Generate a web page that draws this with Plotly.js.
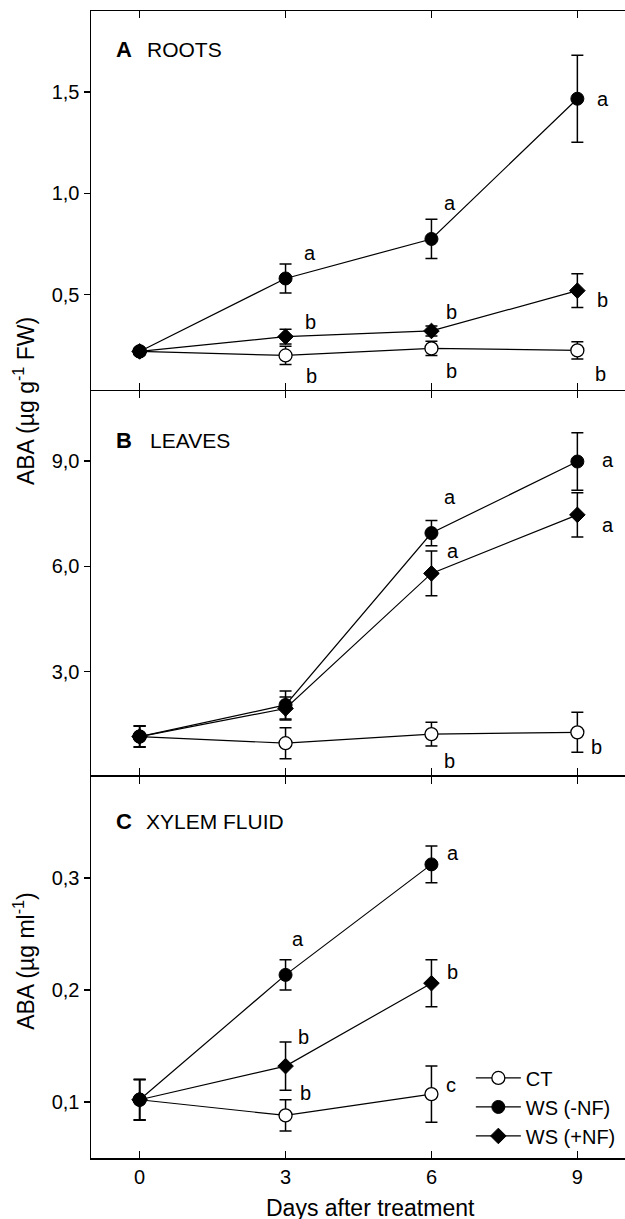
<!DOCTYPE html>
<html>
<head>
<meta charset="utf-8">
<script src="https://cdn.plot.ly/plotly-3.0.1.min.js"></script>
<style>
html,body{margin:0;padding:0;overflow:hidden;background:#fff;}
#chart{width:627px;height:1219px;}
</style>
</head>
<body>
<div id="chart"></div>
<script>
// ---- data ----
var days = [0, 3, 6, 9];
var daysXylem = [0, 3, 6];
var xTickLabels = ['0', '3', '6', '9'];

// A: roots (µg g-1 FW)
var ctRoots = [0.22, 0.20, 0.235, 0.225];
var ctRootsErr = [0.015, 0.045, 0.035, 0.043];
var wsmRoots = [0.22, 0.58, 0.775, 1.467];
var wsmRootsErr = [0.015, 0.072, 0.097, 0.215];
var wspRoots = [0.22, 0.293, 0.321, 0.52];
var wspRootsErr = [0.015, 0.037, 0.025, 0.083];

// B: leaves (µg g-1 FW)
var ctLeaves = [1.15, 0.96, 1.22, 1.27];
var ctLeavesErr = [0.3, 0.44, 0.34, 0.57];
var wsmLeaves = [1.15, 2.05, 6.95, 8.99];
var wsmLeavesErr = [0.3, 0.40, 0.36, 0.82];
var wspLeaves = [1.15, 1.95, 5.80, 7.47];
var wspLeavesErr = [0.3, 0.33, 0.64, 0.63];

// C: xylem fluid (µg ml-1)
var ctXylem = [0.102, 0.088, 0.107];
var ctXylemErr = [0.018, 0.014, 0.025];
var wsmXylem = [0.102, 0.2134, 0.312];
var wsmXylemErr = [0.018, 0.0135, 0.0165];
var wspXylem = [0.102, 0.132, 0.206];
var wspXylemErr = [0.018, 0.0215, 0.021];

var seriesNames = ['CT', 'WS (-NF)', 'WS (+NF)'];

var ticksA = [0.5, 1.0, 1.5], tickTextA = ['0,5', '1,0', '1,5'];
var ticksB = [3, 6, 9], tickTextB = ['3,0', '6,0', '9,0'];
var ticksC = [0.1, 0.2, 0.3], tickTextC = ['0,1', '0,2', '0,3'];

// significance letters: [day-position, value-position, letter]
var lettersA = [[3.50, 0.706, 'a'], [6.38, 0.952, 'a'], [9.53, 1.465, 'a'],
                [3.52, 0.367, 'b'], [3.54, 0.100, 'b'], [6.42, 0.415, 'b'],
                [6.42, 0.125, 'b'], [9.51, 0.474, 'b'], [9.47, 0.109, 'b']];
var lettersB = [[6.38, 7.99, 'a'], [6.44, 6.44, 'a'], [9.63, 9.02, 'a'],
                [9.63, 7.19, 'a'], [6.38, 0.46, 'b'], [9.40, 0.86, 'b']];
var lettersC = [[6.44, 0.322, 'a'], [3.26, 0.2454, 'a'], [6.44, 0.216, 'b'],
                [3.36, 0.158, 'b'], [3.40, 0.108, 'b'], [6.41, 0.115, 'c']];

// ---- styling ----
var FONT = 'Liberation Sans, Arial, Helvetica, sans-serif';
var BLACK = '#000000';

function mk(name, x, y, err, kind, xa, ya, showLegend) {
  var marker;
  if (kind === 'open') marker = {symbol: 'circle', size: 13, color: '#ffffff', line: {color: BLACK, width: 1.3}};
  else if (kind === 'filled') marker = {symbol: 'circle', size: 13, color: BLACK, line: {color: BLACK, width: 1}};
  else marker = {symbol: 'diamond', size: 12, color: BLACK, line: {color: BLACK, width: 1}};
  return {
    type: 'scatter', mode: 'lines+markers', name: name,
    x: x, y: y, xaxis: xa, yaxis: ya,
    line: {color: BLACK, width: 1.2},
    marker: marker,
    error_y: {type: 'data', array: err, visible: true, color: BLACK, thickness: 1.5, width: 6},
    showlegend: showLegend,
    hoverinfo: 'skip'
  };
}

var traces = [
  mk(seriesNames[0], days, ctRoots, ctRootsErr, 'open', 'x', 'y', false),
  mk(seriesNames[2], days, wspRoots, wspRootsErr, 'diamond', 'x', 'y', false),
  mk(seriesNames[1], days, wsmRoots, wsmRootsErr, 'filled', 'x', 'y', false),

  mk(seriesNames[0], days, ctLeaves, ctLeavesErr, 'open', 'x2', 'y2', false),
  mk(seriesNames[2], days, wspLeaves, wspLeavesErr, 'diamond', 'x2', 'y2', false),
  mk(seriesNames[1], days, wsmLeaves, wsmLeavesErr, 'filled', 'x2', 'y2', false),

  mk(seriesNames[0], daysXylem, ctXylem, ctXylemErr, 'open', 'x3', 'y3', true),
  mk(seriesNames[1], daysXylem, wsmXylem, wsmXylemErr, 'filled', 'x3', 'y3', true),
  mk(seriesNames[2], daysXylem, wspXylem, wspXylemErr, 'diamond', 'x3', 'y3', true)
];

function xAxis(anchor, labels) {
  return {
    anchor: anchor, domain: [0, 1], range: [-1, 10],
    tickmode: 'array', tickvals: days, ticktext: xTickLabels,
    showticklabels: labels, ticks: 'inside', ticklen: 7, tickwidth: 1.5, tickcolor: BLACK,
    showline: true, linecolor: BLACK, linewidth: 1.5, mirror: 'ticks',
    showgrid: false, zeroline: false,
    tickfont: {family: FONT, size: 20, color: BLACK}
  };
}
function yAxis(anchor, domain, range, tv, tt) {
  return {
    anchor: anchor, domain: domain, range: range,
    tickmode: 'array', tickvals: tv, ticktext: tt,
    ticks: 'outside', ticklen: 6, tickwidth: 1.5, tickcolor: BLACK,
    showline: true, linecolor: BLACK, linewidth: 1.5, mirror: true,
    showgrid: false, zeroline: false,
    tickfont: {family: FONT, size: 20, color: BLACK}
  };
}
function yRight(over, anchor, range, tv) {
  return {
    overlaying: over, side: 'right', anchor: anchor,
    range: range, tickmode: 'array', tickvals: tv,
    showticklabels: false, ticks: 'inside', ticklen: 6, tickwidth: 1.5, tickcolor: BLACK,
    showline: false, showgrid: false, zeroline: false
  };
}

var rangeA = [0.032, 1.9], rangeB = [0.04, 11], rangeC = [0.05, 0.39];
// neighbouring panels share one frame line (offset by one line width so the two lines coincide)
var domA = [0.6700, 1], domB = [0.3335, 0.6687], domC = [0, 0.3322];

var ann = [];
function addLetters(list, xr, yr) {
  list.forEach(function (l) {
    ann.push({x: l[0], y: l[1], xref: xr, yref: yr, text: l[2], showarrow: false,
      xanchor: 'center', yanchor: 'middle', font: {family: FONT, size: 20, color: BLACK}});
  });
}
addLetters(lettersA, 'x', 'y');
addLetters(lettersB, 'x2', 'y2');
addLetters(lettersC, 'x3', 'y3');

function panelTitle(letter, word, xr, yr, yFrac, wordX) {
  ann.push({x: -0.52, y: yFrac, xref: xr, yref: yr + ' domain', text: '<b>' + letter + '</b>',
    showarrow: false, xanchor: 'left', yanchor: 'middle', font: {family: FONT, size: 22, color: BLACK}});
  ann.push({x: wordX, y: yFrac, xref: xr, yref: yr + ' domain', text: word,
    showarrow: false, xanchor: 'left', yanchor: 'middle', font: {family: FONT, size: 21, color: BLACK}});
}
panelTitle('A', 'ROOTS', 'x', 'y', 0.899, 0.12);
panelTitle('B', 'LEAVES', 'x2', 'y2', 0.870, 0.17);
panelTitle('C', 'XYLEM FLUID', 'x3', 'y3', 0.883, 0.08);

// axis titles
ann.push({x: -0.125, y: 0.66, xref: 'paper', yref: 'paper', textangle: -90,
  text: 'ABA (\u00b5g g<sup>-1</sup> FW)', showarrow: false, xanchor: 'center', yanchor: 'middle',
  font: {family: FONT, size: 23, color: BLACK}});
ann.push({x: -0.125, y: 0.172, xref: 'paper', yref: 'paper', textangle: -90,
  text: 'ABA (\u00b5g ml<sup>-1</sup>)', showarrow: false, xanchor: 'center', yanchor: 'middle',
  font: {family: FONT, size: 23, color: BLACK}});
ann.push({x: 0.522, y: -0.0435, xref: 'paper', yref: 'paper',
  text: 'Days after treatment', showarrow: false, xanchor: 'center', yanchor: 'middle',
  font: {family: FONT, size: 23, color: BLACK}});

var layout = {
  width: 627, height: 1219,
  margin: {l: 91, r: 1, t: 11, b: 61},
  paper_bgcolor: '#ffffff', plot_bgcolor: '#ffffff',
  font: {family: FONT, color: BLACK},
  showlegend: true,
  legend: {x: 0.71, y: 0.0445, xref: 'paper', yref: 'paper', xanchor: 'left', yanchor: 'middle',
    bgcolor: 'rgba(0,0,0,0)', borderwidth: 0, itemwidth: 45,
    font: {family: FONT, size: 20, color: BLACK}, traceorder: 'normal'},
  xaxis: xAxis('y', false),
  xaxis2: xAxis('y2', false),
  xaxis3: xAxis('y3', true),
  yaxis: yAxis('x', domA, rangeA, ticksA, tickTextA),
  yaxis2: yAxis('x2', domB, rangeB, ticksB, tickTextB),
  yaxis3: yAxis('x3', domC, rangeC, ticksC, tickTextC),
  yaxis4: yRight('y', 'x', rangeA, ticksA),
  yaxis5: yRight('y2', 'x2', rangeB, ticksB),
  yaxis6: yRight('y3', 'x3', rangeC, ticksC),
  annotations: ann
};

Plotly.newPlot('chart', traces, layout, {staticPlot: true, displayModeBar: false});
</script>
</body>
</html>
